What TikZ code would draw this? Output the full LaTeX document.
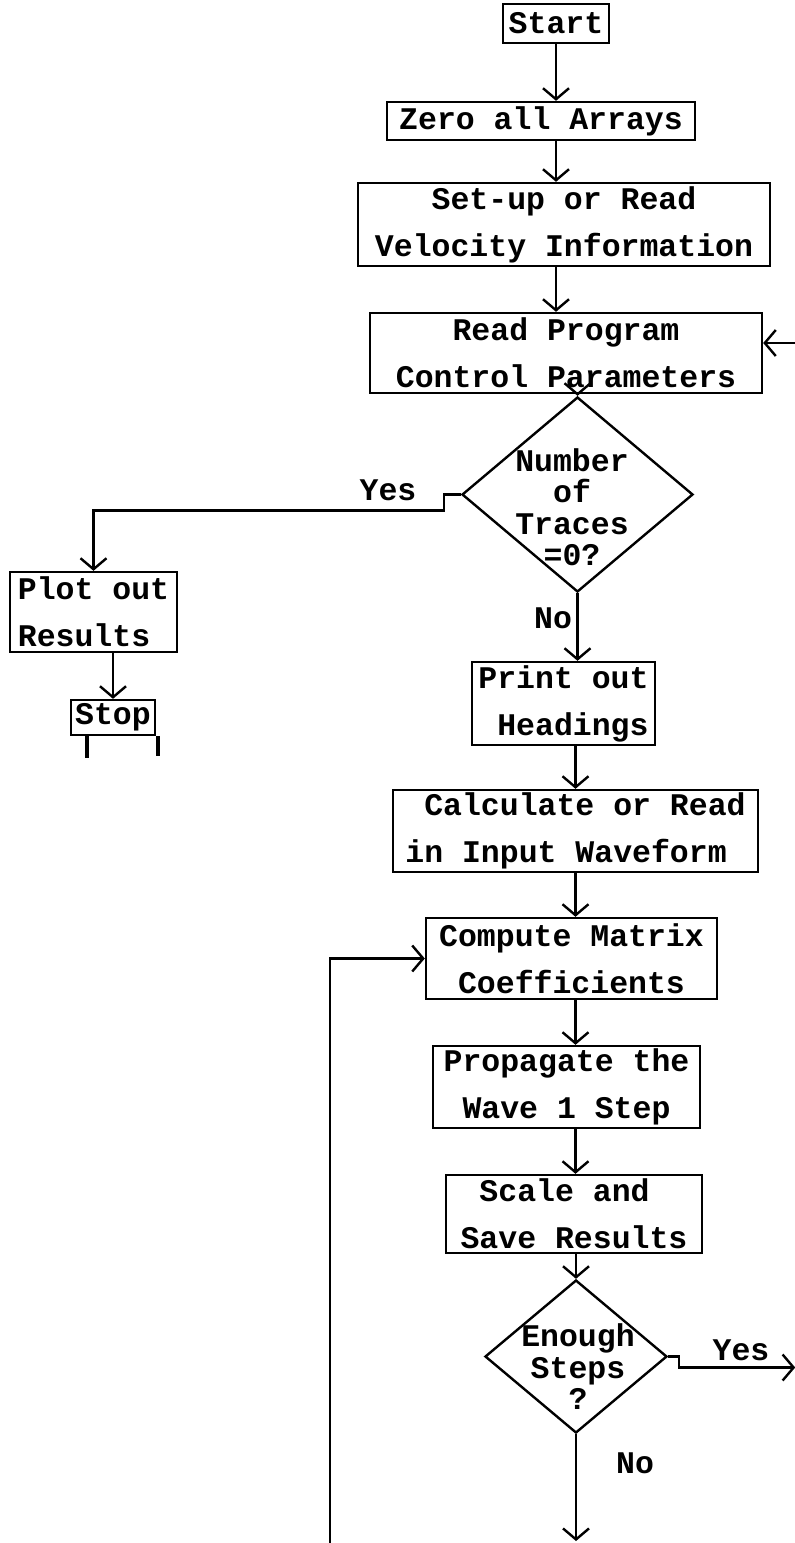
\documentclass[tikz,border=0pt]{standalone}
\usepackage{fontspec}
\setmainfont{Liberation Mono}
\usetikzlibrary{arrows.meta,shapes.geometric}
\begin{document}
\begin{tikzpicture}[x=1pt,y=-1pt,
  every node/.style={font=\bfseries\fontsize{31.5}{47}\selectfont},
  box/.style={draw,line width=2.4pt,inner sep=0pt},
  dia/.style={draw,diamond,line width=2.4pt,inner sep=0pt},
  dtext/.style={align=center,inner sep=0pt,font=\bfseries\fontsize{31.5}{31.5}\selectfont},
  arr/.style={line width=2.4pt,-{Straight Barb[length=11pt,width=26pt,line width=2.4pt]}},
  leg/.style={line width=4pt},
  lbl/.style={inner sep=0pt}]
\useasboundingbox (0,0) rectangle (795,1543);

% boxes
\node[box,minimum width=106,minimum height=39,align=center] (start) at (556,23.5) {Start};
\node[box,minimum width=308,minimum height=38,align=center] (zero) at (541,121) {Zero all Arrays};
\node[box,minimum width=412,minimum height=83,align=center] (setup) at (564,224.5) {Set-up or Read\\Velocity Information};
\node[box,minimum width=392,minimum height=80,align=center] (read) at (566,353) {Read Program\\Control Parameters};
\node[dia,minimum width=231,minimum height=195] (d1) at (577.5,494.5) {};
\node[dtext] (d1t) at (572,507) {Number\\of\\Traces\\=0?};
\node[box,minimum width=167,minimum height=80,align=left] (plot) at (93.5,612) {Plot out\\Results};
\node[box,minimum width=84,minimum height=35,align=center] (stop) at (113,717.5) {Stop};
\node[box,minimum width=183,minimum height=83,align=right] (print) at (563.5,703.5) {Print out\\Headings};
\node[box,minimum width=365,minimum height=82,align=left] (calc) at (575.5,831) {\hspace*{0.6em}Calculate or Read\\in Input Waveform};
\node[box,minimum width=291,minimum height=81,align=center] (compute) at (571.5,958.5) {Compute Matrix\\Coefficients};
\node[box,minimum width=267,minimum height=82,align=center] (prop) at (566.5,1087) {Propagate the\\Wave 1 Step};
\node[box,minimum width=256,minimum height=78,align=left] (scale) at (574,1214) {\hspace*{0.6em}Scale and\\Save Results};
\node[dia,minimum width=182,minimum height=153] (d2) at (576,1356.5) {};
\node[dtext] (d2t) at (578,1367) {Enough\\Steps\\?};

% labels
\node[lbl] (yes1) at (388,490) {Yes};
\node[lbl] (no1) at (553,618) {No};
\node[lbl] (yes2) at (741,1350) {Yes};
\node[lbl] (no2) at (635,1463) {No};

% free ends
\coordinate (fbin) at (795,343);
\coordinate (lstart) at (330,1543);
\coordinate (nend) at (585,1541);

% connectors
\draw[arr] (start.south) -- (start.south |- zero.north);
\draw[arr] (zero.south -| start.south) -- (setup.north -| start.south);
\draw[arr] (setup.south -| start.south) -- (read.north -| start.south);
\draw[arr] (read.south -| d1.north) -- (d1.north);
\draw[arr] (d1.south) -- (d1.south |- print.north);
\draw[arr] (print.south -| calc.north) -- (calc.north);
\draw[arr] (calc.south) -- (calc.south |- compute.north);
\draw[arr] (compute.south -| calc.south) -- (prop.north -| calc.south);
\draw[arr] (prop.south -| calc.south) -- (scale.north -| calc.south);
\draw[arr] (scale.south -| d2.north) -- (d2.north);
\draw[arr] (d2.south) -- (d2.south |- nend);
\draw[arr] (fbin) -- (fbin -| read.east);
\draw[arr] (lstart) |- (compute.west);
\draw[arr] (d1.west) -- ++(-17,0) -- ++(0,16) -| (plot.north);
\draw[arr] (d2.east) -- ++(11,0) -- ++(0,11) -- ++(116,0);
\draw[arr] (plot.south -| stop.north) -- (stop.north);
\draw[leg] ([xshift=17pt]stop.south west) -- ++(0,22);
\draw[leg] ([xshift=2pt]stop.south east) -- ++(0,20);
\end{tikzpicture}
\end{document}
